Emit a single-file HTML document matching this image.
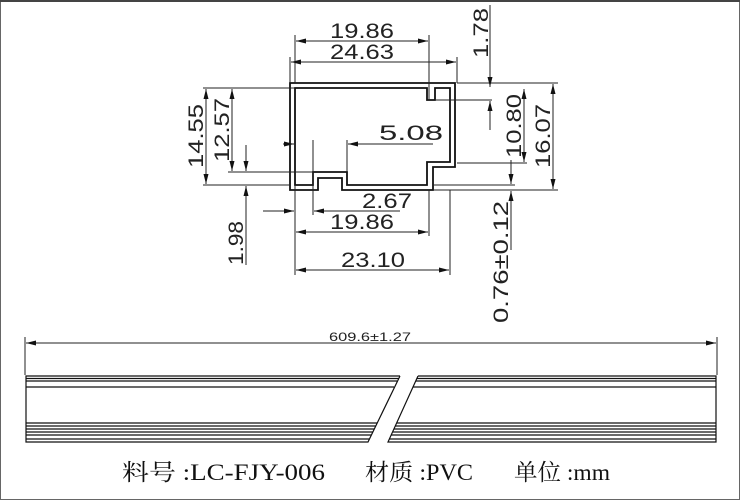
<!DOCTYPE html>
<html><head><meta charset="utf-8"><style>
html,body{margin:0;padding:0;background:#fff}
svg{display:block}
</style></head><body>
<svg width="740" height="500" viewBox="0 0 740 500" xmlns="http://www.w3.org/2000/svg">
<defs>
<marker id="a" markerWidth="10" markerHeight="6" refX="10" refY="3" orient="auto" markerUnits="userSpaceOnUse"><path d="M0,0.5 L10,3 L0,5.5z" fill="#111"/></marker>
</defs>
<rect x="0.5" y="0.5" width="739" height="499" fill="none" stroke="#666" stroke-width="1"/>
<line x1="0" y1="1" x2="740" y2="1" stroke="#444" stroke-width="2"/>
<g fill="none" stroke="#111" stroke-width="1.8">
<path d="M290,83 L455,83 L455,167 L433,167 L433,190 L342,190 L342,178 L318,178 L318,190 L290,190 Z"/>
<path d="M295,88 L427,88 L427,100 L435,100 L435,88 L450,88 L450,162 L427,162 L427,185 L347,185 L347,172 L313,172 L313,185 L295,185 Z"/>
</g>
<g stroke="#222" stroke-width="1" fill="none">
<line x1="295" y1="35" x2="295" y2="83"/><line x1="429" y1="35" x2="429" y2="100"/>
<line x1="290" y1="57" x2="290" y2="83"/><line x1="457" y1="57" x2="457" y2="83"/>
<line x1="362" y1="41" x2="296" y2="41" marker-end="url(#a)"/><line x1="362" y1="41" x2="428" y2="41" marker-end="url(#a)"/>
<line x1="373" y1="62" x2="291" y2="62" marker-end="url(#a)"/><line x1="373" y1="62" x2="456" y2="62" marker-end="url(#a)"/>
<line x1="457" y1="83" x2="558" y2="83"/><line x1="436" y1="100" x2="492" y2="100"/>
<line x1="433" y1="190" x2="558" y2="190"/><line x1="457" y1="163" x2="527" y2="163"/><line x1="433" y1="185" x2="515" y2="185"/>
<line x1="490" y1="5" x2="490" y2="87" marker-end="url(#a)"/><line x1="490" y1="130" x2="490" y2="101" marker-end="url(#a)"/>
<line x1="524" y1="125" x2="524" y2="89" marker-end="url(#a)"/><line x1="524" y1="125" x2="524" y2="162" marker-end="url(#a)"/>
<line x1="553" y1="136" x2="553" y2="84" marker-end="url(#a)"/><line x1="553" y1="136" x2="553" y2="189" marker-end="url(#a)"/>
<line x1="511" y1="160" x2="511" y2="184" marker-end="url(#a)"/><line x1="511" y1="250" x2="511" y2="191" marker-end="url(#a)"/>
<line x1="203" y1="88" x2="295" y2="88"/><line x1="203" y1="185" x2="290" y2="185"/>
<line x1="228" y1="172" x2="313" y2="172"/>
<line x1="206" y1="136" x2="206" y2="89" marker-end="url(#a)"/><line x1="206" y1="136" x2="206" y2="184" marker-end="url(#a)"/>
<line x1="232" y1="130" x2="232" y2="89" marker-end="url(#a)"/><line x1="232" y1="130" x2="232" y2="171" marker-end="url(#a)"/>
<line x1="246" y1="145" x2="246" y2="171" marker-end="url(#a)"/><line x1="246" y1="265" x2="246" y2="186" marker-end="url(#a)"/>
<line x1="313" y1="140" x2="313" y2="215"/><line x1="347" y1="140" x2="347" y2="172"/>
<line x1="283" y1="144" x2="294" y2="144" marker-end="url(#a)"/>
<line x1="433" y1="144" x2="348" y2="144" marker-end="url(#a)"/>
<line x1="263" y1="211" x2="294" y2="211" marker-end="url(#a)"/>
<line x1="400" y1="211" x2="314" y2="211" marker-end="url(#a)"/>
<line x1="295" y1="185" x2="295" y2="275"/><line x1="429" y1="190" x2="429" y2="236"/><line x1="450" y1="190" x2="450" y2="275"/>
<line x1="362" y1="232" x2="296" y2="232" marker-end="url(#a)"/><line x1="362" y1="232" x2="428" y2="232" marker-end="url(#a)"/>
<line x1="372" y1="270" x2="296" y2="270" marker-end="url(#a)"/><line x1="372" y1="270" x2="449" y2="270" marker-end="url(#a)"/>
<line x1="25" y1="337" x2="25" y2="375"/><line x1="717" y1="337" x2="717" y2="375"/>
<line x1="370" y1="343" x2="26" y2="343" marker-end="url(#a)"/><line x1="370" y1="343" x2="716" y2="343" marker-end="url(#a)"/>
</g>
<g stroke="#111" stroke-width="1.2" fill="none">
<path d="M400,376 L26,376 L26,442 L368,442 L400,376"/>
<path d="M418,376 L716,376 L716,442 L388,442 L418,376"/>
<line x1="26" y1="378.5" x2="399" y2="378.5"/><line x1="417" y1="378.5" x2="716" y2="378.5"/>
<line x1="26" y1="381" x2="397" y2="381"/><line x1="416" y1="381" x2="716" y2="381"/>
<line x1="26" y1="387" x2="394" y2="387"/><line x1="413" y1="387" x2="716" y2="387"/>
<line x1="26" y1="423" x2="377" y2="423"/><line x1="397" y1="423" x2="716" y2="423"/>
<line x1="26" y1="426" x2="376" y2="426"/><line x1="395" y1="426" x2="716" y2="426"/>
<line x1="26" y1="429" x2="374" y2="429"/><line x1="394" y1="429" x2="716" y2="429"/>
<line x1="26" y1="432" x2="373" y2="432"/><line x1="393" y1="432" x2="716" y2="432"/>
<line x1="26" y1="435" x2="371" y2="435"/><line x1="391" y1="435" x2="716" y2="435"/>
<line x1="26" y1="439" x2="369" y2="439"/><line x1="389" y1="439" x2="716" y2="439"/>
</g>
<g font-family="'Liberation Sans',sans-serif" font-size="21" fill="#222" text-anchor="middle">
<text x="362" y="38" textLength="64" lengthAdjust="spacingAndGlyphs">19.86</text>
<text x="362" y="59" textLength="64" lengthAdjust="spacingAndGlyphs">24.63</text>
<text x="411" y="140" textLength="64" lengthAdjust="spacingAndGlyphs">5.08</text>
<text x="387" y="208" textLength="50" lengthAdjust="spacingAndGlyphs">2.67</text>
<text x="362" y="229" textLength="64" lengthAdjust="spacingAndGlyphs">19.86</text>
<text x="373" y="267" textLength="64" lengthAdjust="spacingAndGlyphs">23.10</text>
<text transform="translate(488,33) rotate(-90)" textLength="50" lengthAdjust="spacingAndGlyphs">1.78</text>
<text transform="translate(521,126) rotate(-90)" textLength="64" lengthAdjust="spacingAndGlyphs">10.80</text>
<text transform="translate(550,136) rotate(-90)" textLength="64" lengthAdjust="spacingAndGlyphs">16.07</text>
<text transform="translate(508,262) rotate(-90)" textLength="122" lengthAdjust="spacingAndGlyphs">0.76±0.12</text>
<text transform="translate(203,136) rotate(-90)" textLength="64" lengthAdjust="spacingAndGlyphs">14.55</text>
<text transform="translate(229,130) rotate(-90)" textLength="64" lengthAdjust="spacingAndGlyphs">12.57</text>
<text transform="translate(243,243) rotate(-90)" textLength="44" lengthAdjust="spacingAndGlyphs">1.98</text>
<text x="370" y="341" font-size="12" textLength="82" lengthAdjust="spacingAndGlyphs">609.6±1.27</text>
</g>
<g font-family="'Liberation Serif','Noto Serif CJK SC',serif" font-size="23" fill="#111">
<text x="122" y="480" textLength="203" lengthAdjust="spacingAndGlyphs">料号 :LC-FJY-006</text>
<text x="365" y="480" textLength="108" lengthAdjust="spacingAndGlyphs">材质 :PVC</text>
<text x="514" y="480" textLength="96" lengthAdjust="spacingAndGlyphs">单位 :mm</text>
</g>
</svg>
</body></html>
